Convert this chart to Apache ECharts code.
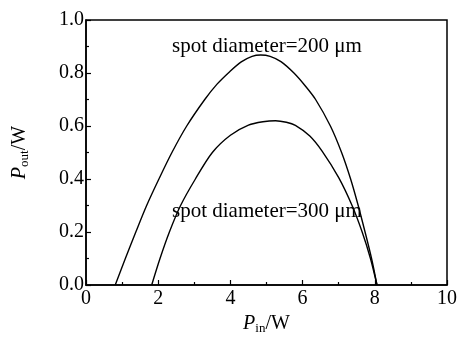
<!DOCTYPE html>
<html>
<head>
<meta charset="utf-8">
<script src="https://cdn.jsdelivr.net/npm/echarts@6/dist/echarts.min.js"></script>
<style>
  html, body { margin: 0; padding: 0; background: #fff; }
  #main { width: 457px; height: 341px; }
</style>
</head>
<body>
<div id="main"></div>
<script>
// 曲线数据 (Pin, Pout)
var spot200 = [
  [0.81, 0], [1.09, 0.1], [1.38, 0.2], [1.68, 0.3], [2.02, 0.4],
  [2.38, 0.5], [2.79, 0.6], [3.29, 0.7], [3.63, 0.758], [3.98, 0.805],
  [4.30, 0.842], [4.60, 0.863], [4.84, 0.868], [5.10, 0.863], [5.40, 0.843],
  [5.76, 0.8], [6.07, 0.752], [6.36, 0.7], [6.77, 0.6], [7.08, 0.5],
  [7.33, 0.4], [7.54, 0.3], [7.73, 0.2], [7.91, 0.1], [8.06, 0]
];
var spot300 = [
  [1.82, 0], [2.05, 0.1], [2.31, 0.2], [2.62, 0.3], [3.03, 0.4],
  [3.50, 0.5], [4.00, 0.565], [4.50, 0.603], [4.90, 0.616], [5.25, 0.62],
  [5.55, 0.614], [5.80, 0.602], [6.20, 0.562], [6.54, 0.505], [7.00, 0.405],
  [7.37, 0.3], [7.65, 0.2], [7.88, 0.1], [8.06, 0]
];
var labels = ['spot diameter=200 \u03bcm', 'spot diameter=300 \u03bcm'];

var serif = "'Liberation Serif', 'Times New Roman', serif";
var nameRich = {
  p: { fontFamily: serif, fontSize: 20, fontStyle: 'italic', color: '#000', lineHeight: 22 },
  s: { fontFamily: serif, fontSize: 13, color: '#000', lineHeight: 12, verticalAlign: 'bottom' },
  n: { fontFamily: serif, fontSize: 20, color: '#000', lineHeight: 22 }
};

var chart = echarts.init(document.getElementById('main'));
var option = {
  animation: false,
  backgroundColor: '#fff',
  grid: {
    left: 86, right: 10, top: 20, bottom: 56,
    outerBoundsMode: 'none', containLabel: false,
    show: true, borderColor: '#000', borderWidth: 1.5
  },
  xAxis: {
    type: 'value', min: 0, max: 10, interval: 2,
    name: '{p|P}{s|in}{n|/W}', nameLocation: 'middle', nameGap: 28,
    nameTextStyle: { rich: nameRich },
    axisLine: { show: true, lineStyle: { color: '#000', width: 1.5 } },
    axisTick: { inside: true, length: 5, lineStyle: { color: '#000', width: 1.2 } },
    minorTick: { show: true, splitNumber: 2, length: 3, lineStyle: { color: '#000', width: 1.2 } },
    axisLabel: { color: '#000', fontFamily: serif, fontSize: 20, margin: 4 },
    splitLine: { show: false }
  },
  yAxis: {
    type: 'value', min: 0, max: 1, interval: 0.2,
    name: '{p|P}{s|out}{n|/W}', nameLocation: 'middle', nameGap: 55, nameRotate: 90,
    nameTextStyle: { rich: nameRich },
    axisLine: { show: true, lineStyle: { color: '#000', width: 1.5 } },
    axisTick: { inside: true, length: 5, lineStyle: { color: '#000', width: 1.2 } },
    minorTick: { show: true, splitNumber: 2, length: 3, lineStyle: { color: '#000', width: 1.2 } },
    axisLabel: {
      color: '#000', fontFamily: serif, fontSize: 20, margin: 2,
      formatter: function (v) { return v.toFixed(1); }
    },
    splitLine: { show: false }
  },
  series: [
    {
      name: labels[0], type: 'line', data: spot200, smooth: 0.3, symbol: 'none',
      lineStyle: { color: '#000', width: 1.4 }
    },
    {
      name: labels[1], type: 'line', data: spot300, smooth: 0.3, symbol: 'none',
      lineStyle: { color: '#000', width: 1.4 }
    }
  ],
  graphic: [
    {
      type: 'text', x: 172, y: 46,
      style: { text: labels[0], fill: '#000', font: '21px ' + serif, verticalAlign: 'middle' }
    },
    {
      type: 'text', x: 172, y: 211,
      style: { text: labels[1], fill: '#000', font: '21px ' + serif, verticalAlign: 'middle' }
    }
  ]
};
chart.setOption(option);
</script>
</body>
</html>
